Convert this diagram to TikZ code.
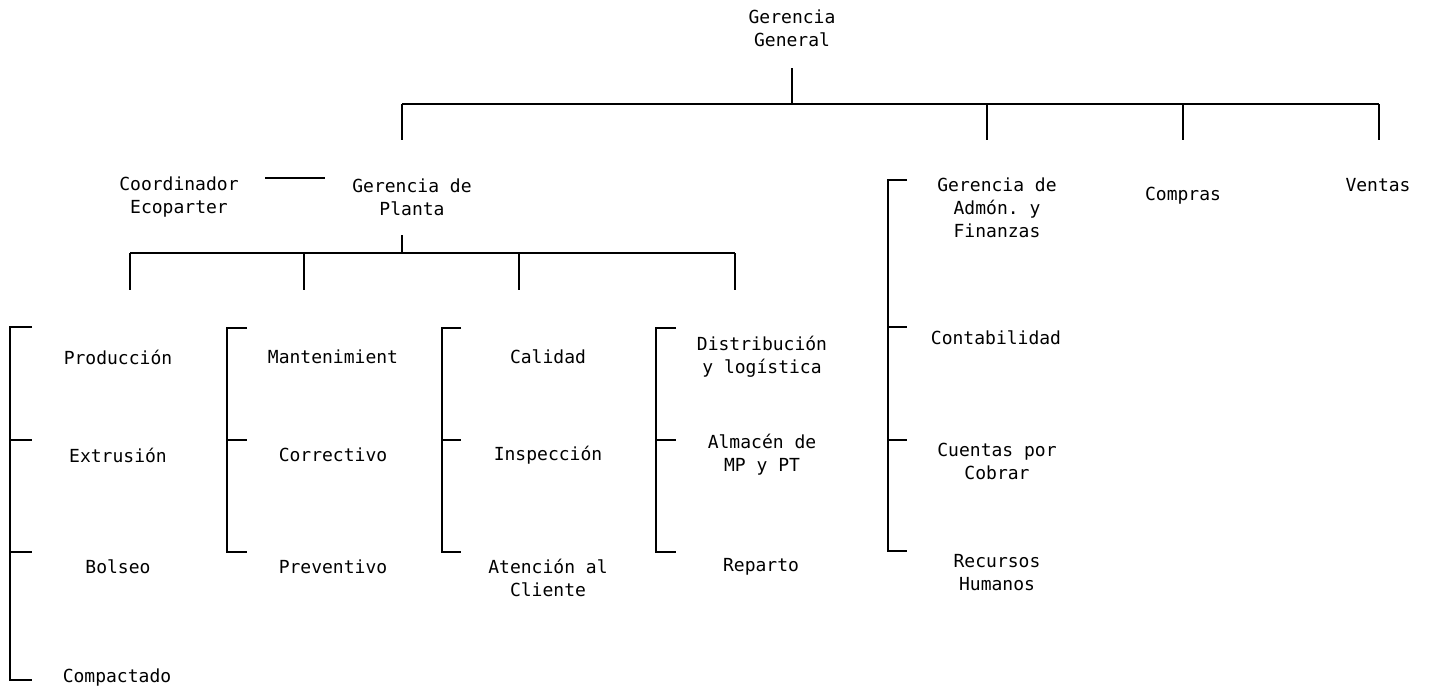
\documentclass[tikz,border=0pt]{standalone}
\usepackage{fontspec}
\setmonofont{DejaVu Sans Mono}
\tikzset{
  puesto/.style={align=center,inner sep=0.75pt,font=\ttfamily\fontsize{13.5}{17.25}\selectfont},
  linea/.style={line width=1.3pt}
}
\begin{document}
\begin{tikzpicture}[x=0.75pt,y=0.75pt,yscale=-1,xscale=1]
		\useasboundingbox (0,0) rectangle (1432,690);
		% nivel superior
		\node[puesto] (gg) at (792,28) {Gerencia\\General};
		\node[puesto] (coord) at (179,197) {Coordinador\\Ecoparter};
		\node[puesto] (planta) at (412,197) {Gerencia de\\Planta};
		\node[puesto] (admon) at (997,208) {Gerencia de\\Admón. y\\Finanzas};
		\node[puesto] (compras) at (1183,196) {Compras};
		\node[puesto] (ventas) at (1378,185) {Ventas};
		% planta
		\node[puesto] (prod) at (118,357) {Producción};
		\node[puesto] (extr) at (118,455) {Extrusión};
		\node[puesto] (bols) at (118,567) {Bolseo};
		\node[puesto] (compac) at (117,678) {Compactado};
		\node[puesto] (mant) at (333,357) {Mantenimient};
		\node[puesto] (corr) at (333,455) {Correctivo};
		\node[puesto] (prev) at (333,567) {Preventivo};
		\node[puesto] (cal) at (548,357) {Calidad};
		\node[puesto] (insp) at (548,455) {Inspección};
		\node[puesto] (aten) at (548,578) {Atención al\\Cliente};
		\node[puesto] (dist) at (762,357) {Distribución\\y logística};
		\node[puesto] (alm) at (762,455) {Almacén de\\MP y PT};
		\node[puesto] (rep) at (761,567) {Reparto};
		% administracion
		\node[puesto] (cont) at (996,338) {Contabilidad};
		\node[puesto] (cxc) at (997,461) {Cuentas por\\Cobrar};
		\node[puesto] (rh) at (997,573) {Recursos\\Humanos};
		% puntos de union
		\coordinate (gg-a) at (792,68);
		\coordinate (gg-b) at (792,104);
		\coordinate (bar-i) at (402,104);
		\coordinate (bar-d) at (1379,104);
		\coordinate (enlace-i) at (265,178);
		\coordinate (enlace-d) at (325,178);
		\coordinate (planta-a) at (402,235);
		\coordinate (planta-b) at (402,253);
		\coordinate (pbar-i) at (130,253);
		\coordinate (pbar-d) at (735,253);
		% lineas de mando
		\draw[linea] (gg-a) -- (gg-b);
		\draw[linea] (bar-i) -- (bar-d);
		\draw[linea] (bar-i) -- (402,140);
		\draw[linea] (987,104) -- (987,140);
		\draw[linea] (1183,104) -- (1183,140);
		\draw[linea] (bar-d) -- (1379,140);
		\draw[linea] (enlace-i) -- (enlace-d);
		\draw[linea] (planta-a) -- (planta-b);
		\draw[linea] (pbar-i) -- (pbar-d);
		\draw[linea] (pbar-i) -- (130,290);
		\draw[linea] (304,253) -- (304,290);
		\draw[linea] (519,253) -- (519,290);
		\draw[linea] (pbar-d) -- (735,290);
		% llaves
		\draw[linea] (32,327) -- (10,327) -- (10,680) -- (32,680);
		\draw[linea] (10,440) -- (32,440);
		\draw[linea] (10,552) -- (32,552);
		\draw[linea] (247,328) -- (227,328) -- (227,552) -- (247,552);
		\draw[linea] (227,440) -- (247,440);
		\draw[linea] (461,328) -- (442,328) -- (442,552) -- (461,552);
		\draw[linea] (442,440) -- (461,440);
		\draw[linea] (676,328) -- (656,328) -- (656,552) -- (676,552);
		\draw[linea] (656,440) -- (676,440);
		\draw[linea] (907,180) -- (888,180) -- (888,551) -- (907,551);
		\draw[linea] (888,327) -- (907,327);
		\draw[linea] (888,440) -- (907,440);
	\end{tikzpicture}
\end{document}
